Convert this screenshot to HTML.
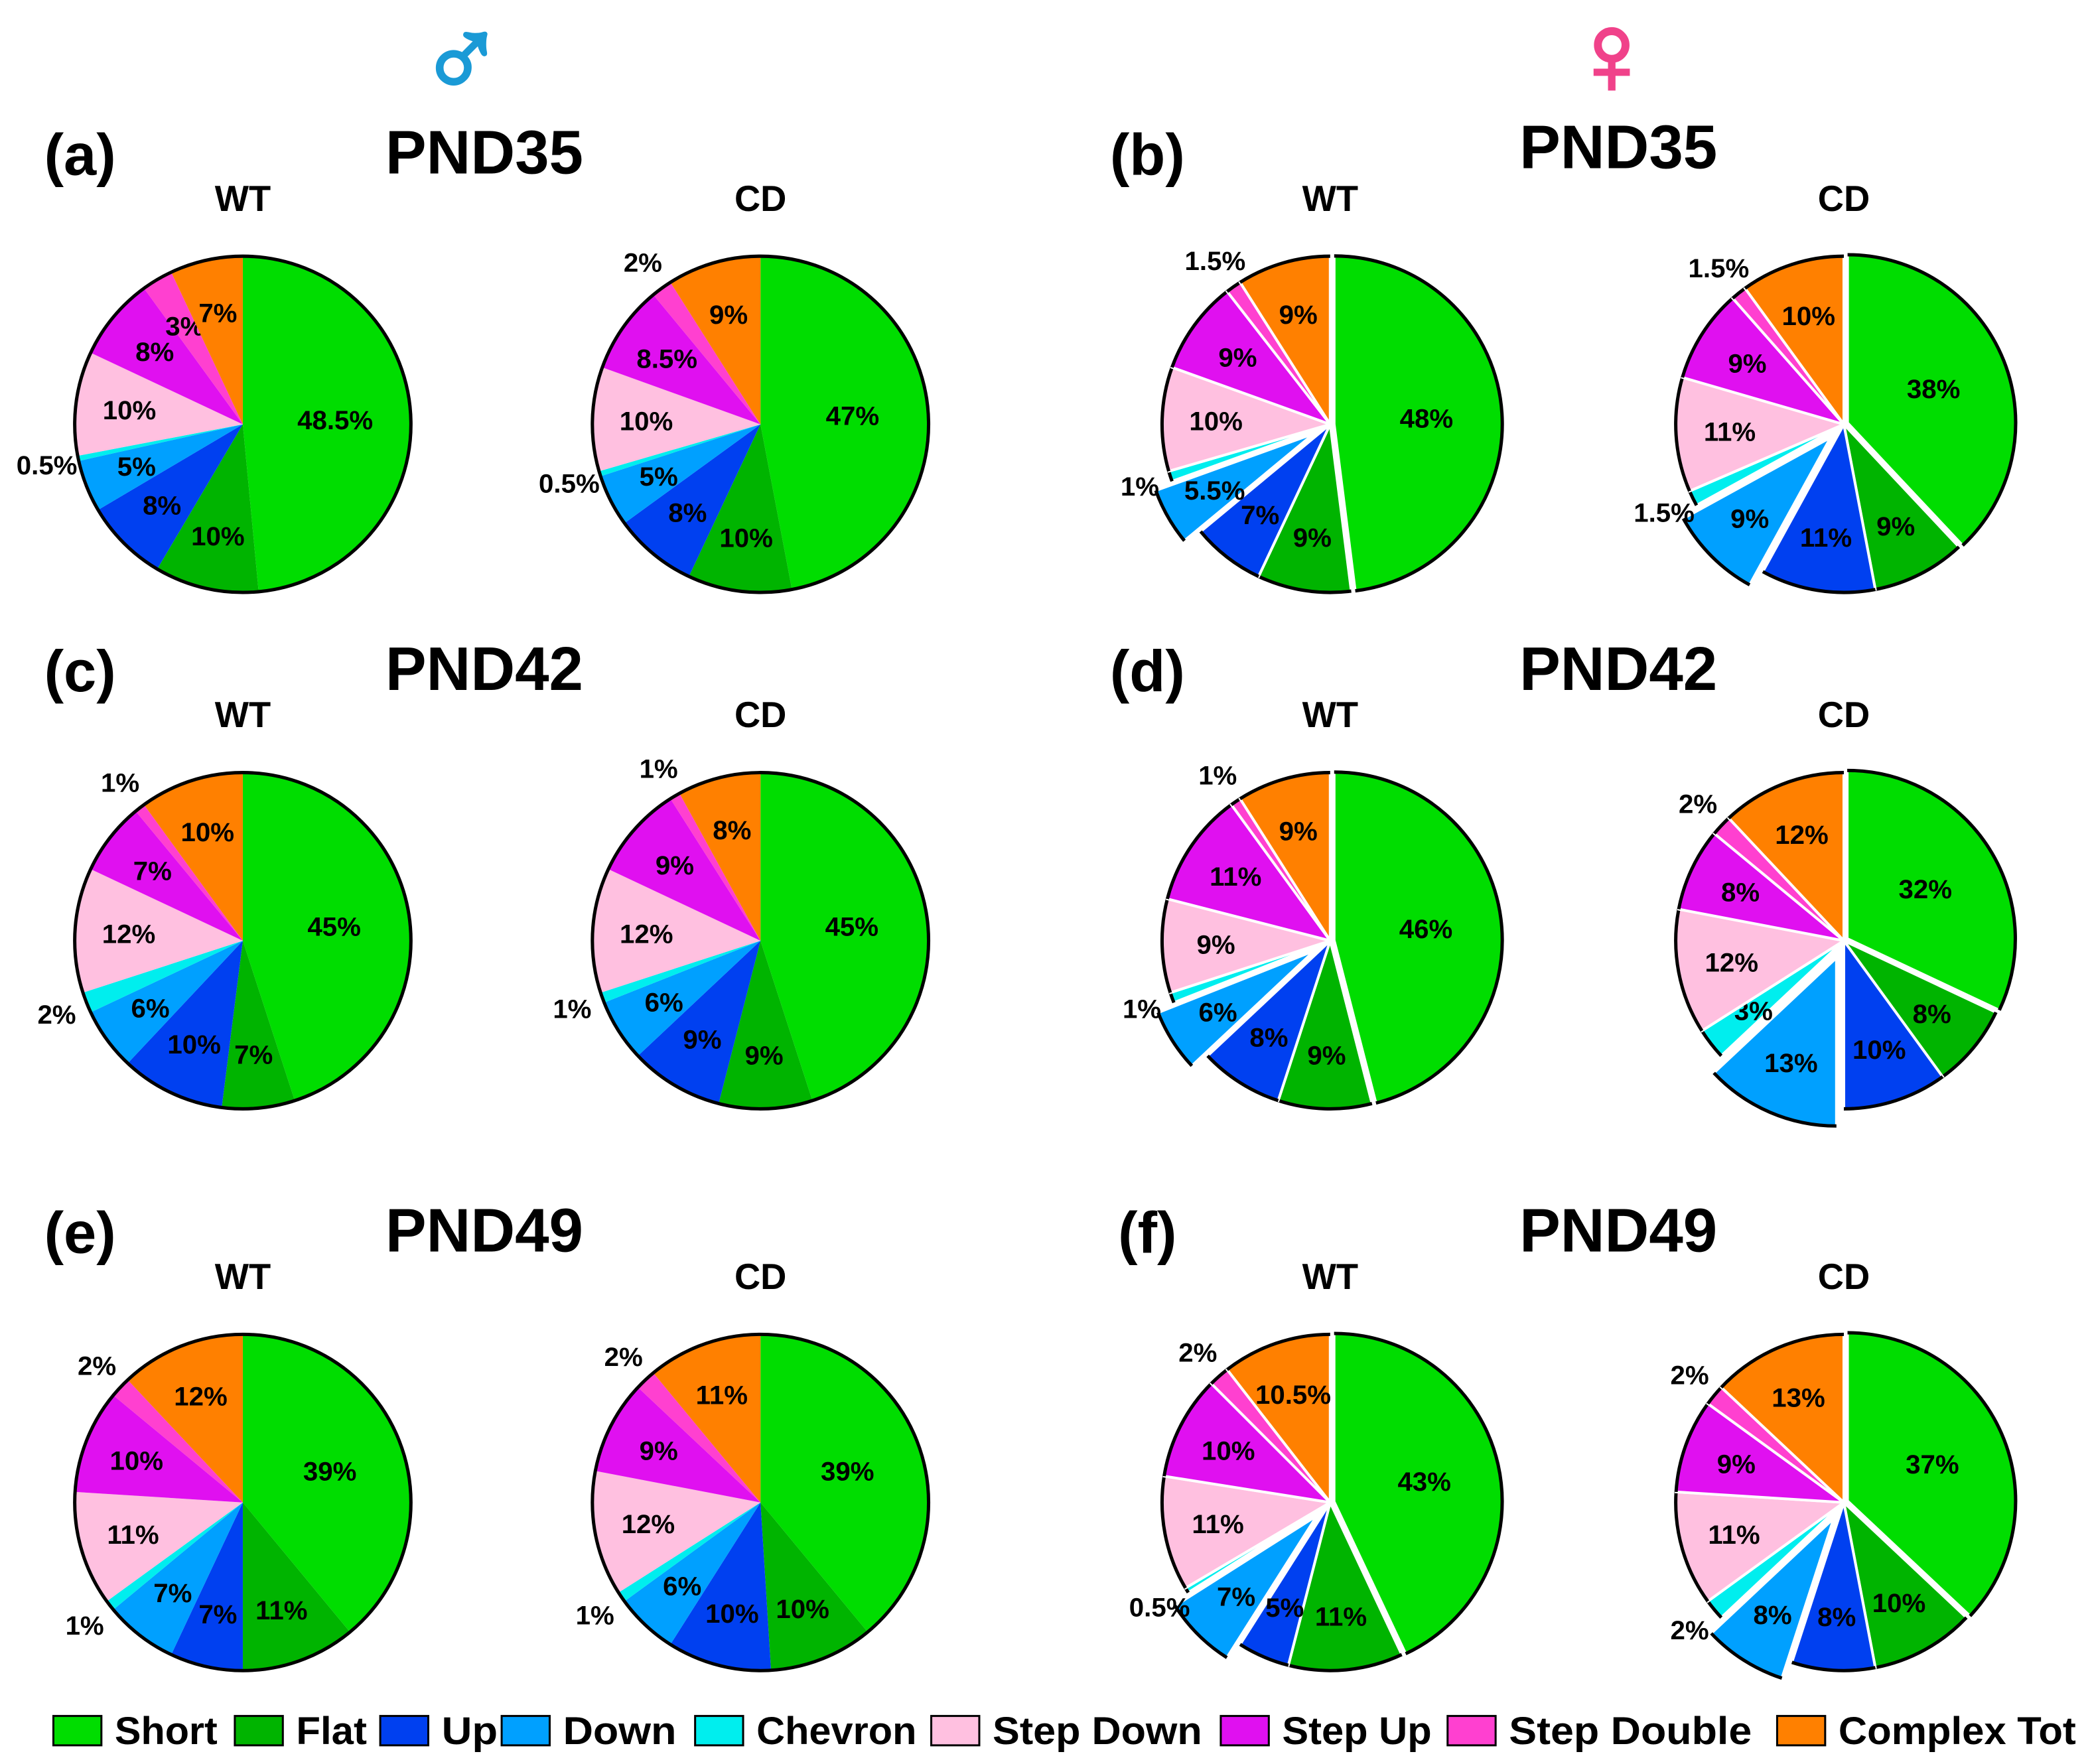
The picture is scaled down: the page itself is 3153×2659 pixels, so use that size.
<!DOCTYPE html>
<html><head><meta charset="utf-8"><style>
html,body{margin:0;padding:0;background:#fff}
svg{display:block}
text{font-family:"Liberation Sans Narrow","Liberation Sans",sans-serif;font-weight:bold;fill:#000}
</style></head><body>
<svg id="chart" width="3153" height="2659" viewBox="0 0 1568 1322" preserveAspectRatio="none" xmlns="http://www.w3.org/2000/svg">
<text x="346" y="70" font-size="86" text-anchor="middle" style="fill:#1a9ad6;stroke:#1a9ad6;stroke-width:2.5">♂</text>
<text x="1208" y="70" font-size="86" text-anchor="middle" style="fill:#f0428a;stroke:#f0428a;stroke-width:2.5">♀</text>
<g id="pies"></g>
<g id="legend"></g>
</svg>
<script>
const categories = ["Short","Flat","Up","Down","Chevron","Step Down","Step Up","Step Double","Complex Tot"];
const colors = ["#00dd00","#00b400","#0040f0","#00a0ff","#00eeee","#ffc0e0","#e010f0","#ff40d0","#ff8000"];
const aWT = [48.5,10,8,5,0.5,10,8,3,7];
const aCD = [47,10,8,5,0.5,10,8.5,2,9];
const bWT = [48,9,7,5.5,1,10,9,1.5,9];
const bCD = [38,9,11,9,1.5,11,9,1.5,10];
const cWT = [45,7,10,6,2,12,7,1,10];
const cCD = [45,9,9,6,1,12,9,1,8];
const dWT = [46,9,8,6,1,9,11,1,9];
const dCD = [32,8,10,13,3,12,8,2,12];
const eWT = [39,11,7,7,1,11,10,2,12];
const eCD = [39,10,10,6,1,12,9,2,11];
const fWT = [43,11,5,7,0.5,11,10,2,10.5];
const fCD = [37,10,8,8,2,11,9,2,13];
const panelLetters = ["(a)","(b)","(c)","(d)","(e)","(f)"];
const panelTitles = ["PND35","PND35","PND42","PND42","PND49","PND49"];
const pieSeries = [[aWT,aCD],[bWT,bCD],[cWT,cCD],[dWT,dCD],[eWT,eCD],[fWT,fCD]];

const NS="http://www.w3.org/2000/svg";
const pies=document.getElementById('pies');
function mk(tag,attrs,parent){const e=document.createElementNS(NS,tag);for(const k in attrs)e.setAttribute(k,attrs[k]);parent.appendChild(e);return e;}
const R=126;
const colX=[[182,570],[997,1382]];
const rowY=[318,705,1126];
function pt(cx,cy,r,a){return [cx+r*Math.sin(a),cy-r*Math.cos(a)];}

pieSeries.forEach((pair,pi)=>{
  const col=pi%2,row=Math.floor(pi/2),female=col===1;
  const g=mk('g',{},pies);
  
  
  const baseY=rowY[row];
  const lx=col===0?60:860;
  const t1=mk('text',{x:lx,y:baseY-187,'font-size':44,'text-anchor':'middle'},g);
  t1.textContent=panelLetters[pi];
  
  
  const t2=mk('text',{x:col===0?363:1213,y:baseY-188+(row===0&&col===1?-4:0),'font-size':46,'text-anchor':'middle'},g);
  t2.textContent=panelTitles[pi];
  
  
  pair.forEach((vals,gi)=>{
    const cx=colX[col][gi],cy=baseY;
    const lab=mk('text',{x:cx,y:cy-160,'font-size':27,'text-anchor':'middle'},g);
    lab.textContent=gi===0?'WT':'CD';
    
    
    const total=vals.reduce((a,b)=>a+b,0);
    let a0=0;
    vals.forEach((v,i)=>{
      const a1=a0+v/total*2*Math.PI, mid=(a0+a1)/2;
      let ex=0;
      if(female){ if(i===3) ex=14; else if(i===0) ex=3; }
      const ox=ex*Math.sin(mid), oy=-ex*Math.cos(mid);
      const c=[cx+ox,cy+oy];
      const p0=pt(c[0],c[1],R,a0),p1=pt(c[0],c[1],R,a1);
      const large=(a1-a0)>Math.PI?1:0;
      const d=`M${c[0]},${c[1]} L${p0[0]},${p0[1]} A${R},${R} 0 ${large} 1 ${p1[0]},${p1[1]} Z`;
      const s=mk('path',{d:d,fill:colors[i],stroke:female?'#fff':'none','stroke-width':female?2:0},g);
      
      
      if(female){
        const arc=mk('path',{d:`M${p0[0]},${p0[1]} A${R},${R} 0 ${large} 1 ${p1[0]},${p1[1]}`,fill:'none',stroke:'#000','stroke-width':2.5},g);
        
        
      }
      const small=v<2.5;
      const lr=small?R+24:(v>30?R*0.55:R*0.68);
      const lp=pt(c[0],c[1],lr,mid);
      const tx=mk('text',{x:lp[0],y:lp[1]+7,'font-size':20,'text-anchor':'middle'},g);
      tx.textContent=v+'%';
      
      
      a0=a1;
    });
    if(!female){
      const o=mk('circle',{cx:cx,cy:cy,r:R,fill:'none',stroke:'#000','stroke-width':2.5},g);
      
      
    }
  });
});

const legendX=[40,176,285,376,521,698,915,1085,1332];
const legendW=[77,53,42,85,120,157,112,182,178];
const leg=document.getElementById('legend');
categories.forEach((c,i)=>{
  const r=mk('rect',{x:legendX[i],y:1286,width:36,height:22,fill:colors[i],stroke:'#000','stroke-width':1.5},leg);
  
  
  const t=mk('text',{x:legendX[i]+46,y:1307,'font-size':29,textLength:legendW[i],lengthAdjust:'spacingAndGlyphs'},leg);
  t.textContent=c;
  
  
});
</script>
</body></html>
